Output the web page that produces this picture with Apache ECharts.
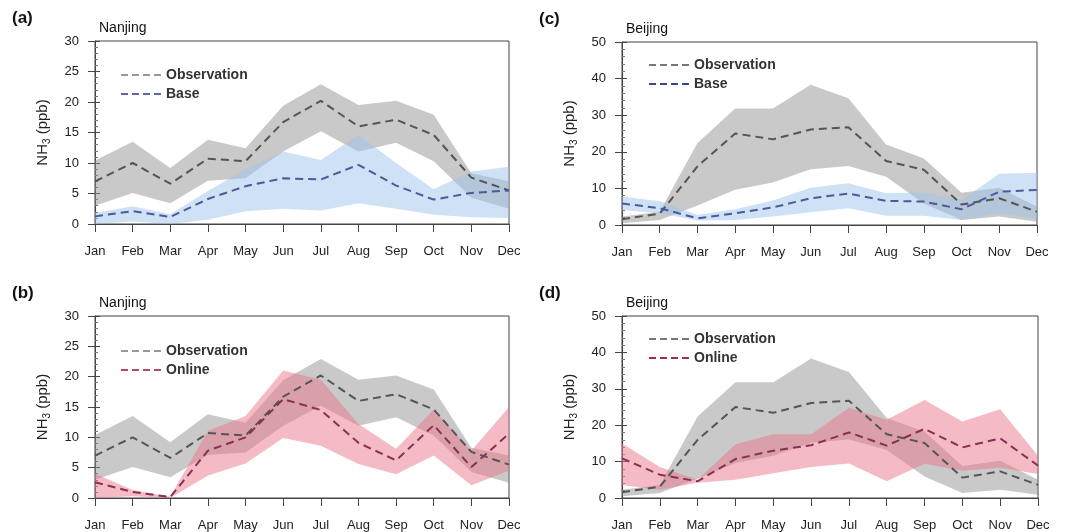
<!DOCTYPE html>
<html>
<head>
<meta charset="utf-8">
<script src="https://cdn.jsdelivr.net/npm/echarts@6/dist/echarts.min.js"></script>
<style>
html,body{margin:0;padding:0;background:#fff;}
#chart{width:1067px;height:532px;}
</style>
</head>
<body>
<div id="chart"></div>
<script>
const months = ['Jan','Feb','Mar','Apr','May','Jun','Jul','Aug','Sep','Oct','Nov','Dec'];

// Nanjing observation (panels a, b)
const njObsMean  = [7.0, 10.0, 6.6, 10.7, 10.3, 16.7, 20.2, 16.0, 17.1, 14.6, 7.6, 5.5];
const njObsUpper = [10.4, 13.5, 9.2, 13.8, 12.4, 19.4, 22.9, 19.5, 20.2, 17.9, 8.3, 7.0];
const njObsLower = [3.0, 5.1, 3.4, 7.1, 7.5, 11.9, 15.2, 11.9, 13.3, 10.3, 4.3, 2.5];
// Nanjing Base (panel a)
const njBaseMean  = [1.25, 2.1, 1.15, 4.1, 6.2, 7.5, 7.3, 9.7, 6.3, 4.0, 5.1, 5.5];
const njBaseUpper = [1.8, 2.9, 1.6, 5.4, 9.0, 11.9, 10.5, 14.6, 10.0, 5.7, 8.6, 9.4];
const njBaseLower = [0.0, 0.4, 0.0, 0.7, 2.1, 2.5, 2.2, 3.4, 2.5, 1.5, 1.1, 1.0];
// Nanjing Online (panel b)
const njOnMean  = [2.6, 1.0, 0.15, 7.8, 10.0, 16.3, 14.5, 9.1, 6.2, 12.0, 5.1, 10.6];
const njOnUpper = [4.0, 1.3, 0.2, 11.1, 13.5, 21.0, 19.5, 12.2, 8.1, 14.6, 7.8, 15.0];
const njOnLower = [0.0, 0.3, 0.0, 3.7, 5.7, 9.9, 8.6, 5.6, 3.9, 7.0, 2.1, 4.5];

// Beijing observation (panels c, d)
const bjObsMean  = [1.6, 3.1, 16.0, 25.0, 23.4, 26.1, 26.7, 17.5, 15.1, 5.6, 7.3, 3.6];
const bjObsUpper = [2.3, 3.6, 22.4, 31.8, 31.8, 38.3, 34.6, 22.0, 18.2, 8.8, 10.2, 5.0];
const bjObsLower = [0.5, 1.4, 5.3, 9.6, 11.6, 15.2, 16.1, 13.2, 5.9, 1.4, 2.3, 0.9];
// Beijing Base (panel c)
const bjBaseMean  = [5.9, 4.6, 1.8, 3.2, 4.8, 7.3, 8.6, 6.6, 6.4, 4.3, 9.1, 9.6];
const bjBaseUpper = [7.8, 6.5, 2.7, 4.3, 6.7, 10.2, 11.4, 8.7, 8.9, 6.8, 14.0, 14.3];
const bjBaseLower = [4.1, 3.2, 1.2, 1.4, 2.3, 3.5, 4.6, 2.5, 2.5, 1.4, 3.2, 1.8];
// Beijing Online (panel d)
const bjOnMean  = [10.9, 6.4, 4.6, 10.7, 13.0, 14.5, 18.0, 14.4, 19.0, 13.9, 16.4, 8.9];
const bjOnUpper = [15.0, 8.5, 5.0, 14.8, 17.5, 17.5, 24.8, 21.5, 26.9, 21.0, 24.4, 11.6];
const bjOnLower = [3.6, 2.3, 4.2, 5.0, 6.8, 8.5, 9.5, 4.6, 9.4, 7.5, 8.3, 6.6];

const njTicks = {min: 0, max: 30, interval: 5};
const bjTicks = {min: 0, max: 50, interval: 10};

const FONT = 'Liberation Sans, Arial, Helvetica, sans-serif';
const AX = '#444';
const OBS_FILL = 'rgba(140,140,140,0.47)';
const BASE_FILL = 'rgba(160,195,235,0.5)';
const ON_FILL = 'rgba(235,120,140,0.5)';
const OBS_LINE = '#555555';
const BASE_LINE = '#4a5a9a';
const ON_LINE = '#8a3052';

const grids = [
  {left: 95, top: 41, width: 414, height: 183},   // a
  {left: 95, top: 316, width: 414, height: 183},  // b
  {left: 622, top: 42, width: 415, height: 183},  // c
  {left: 622, top: 316, width: 416, height: 183}  // d
];
const ticks = [njTicks, njTicks, bjTicks, bjTicks];

const option = {
  animation: false,
  backgroundColor: '#fff',
  textStyle: {fontFamily: FONT},
  title: [],
  legend: [],
  grid: grids.map(g => Object.assign({show: true, borderColor: AX, borderWidth: 1, backgroundColor: 'transparent'}, g)),
  xAxis: [],
  yAxis: [],
  series: []
};

const panelLabels = [['(a)','Nanjing'],['(b)','Nanjing'],['(c)','Beijing'],['(d)','Beijing']];
grids.forEach((g, i) => {
  option.title.push({text: panelLabels[i][0], left: g.left - 88, top: g.top - 36,
    textStyle: {fontSize: 17, fontWeight: 'bold', color: '#111', fontFamily: FONT}});
  option.title.push({text: panelLabels[i][1], left: g.left - 1, top: g.top - 25,
    textStyle: {fontSize: 14, fontWeight: 'normal', color: '#111', fontFamily: FONT}});
  option.xAxis.push({
    gridIndex: i, type: 'category', data: months, boundaryGap: false,
    axisLine: {lineStyle: {color: AX, width: 1}},
    axisTick: {show: true, length: 8, lineStyle: {color: AX}},
    axisLabel: {margin: 21, fontSize: 13, color: '#222', fontFamily: FONT},
    splitLine: {show: false}
  });
  const t = ticks[i];
  option.yAxis.push({
    gridIndex: i, type: 'value', position: 'left', offset: 0,
    min: t.min, max: t.max, interval: t.interval,
    name: '{n|NH}{s|3}{n| (ppb)}', nameLocation: 'middle', nameGap: 43, nameRotate: 90,
    nameTextStyle: {rich: {
      n: {fontSize: 15, color: '#222', fontFamily: FONT},
      s: {fontSize: 10, color: '#222', fontFamily: FONT, padding: [8, 0, 0, 0]}
    }},
    axisLine: {show: true, lineStyle: {color: AX, width: 1}},
    axisTick: {show: true, length: 7, lineStyle: {color: AX}},
    axisLabel: {margin: 16, fontSize: 13, color: '#222', fontFamily: FONT},
    splitLine: {show: false}
  });
  option.yAxis.push({
    gridIndex: i, type: 'value', position: 'left', offset: 0,
    min: t.min, max: t.max, interval: t.interval,
    axisLine: {show: false},
    axisTick: {show: true, inside: true, length: 5, lineStyle: {color: AX}},
    minorTick: {show: true, splitNumber: 5, length: 3, lineStyle: {color: '#777'}},
    axisLabel: {show: false},
    splitLine: {show: false}
  });
});

function band(id, lower, upper, fill, g) {
  const stack = 'stk_' + id;
  return [
    {type: 'line', name: id + '_lo', xAxisIndex: g, yAxisIndex: 2 * g, stack: stack, data: lower,
     symbol: 'none', lineStyle: {opacity: 0, width: 0}, silent: true, z: 1},
    {type: 'line', name: id + '_hi', xAxisIndex: g, yAxisIndex: 2 * g, stack: stack,
     data: upper.map((u, k) => +(u - lower[k]).toFixed(3)),
     symbol: 'none', lineStyle: {opacity: 0, width: 0}, areaStyle: {color: fill, opacity: 1}, silent: true, z: 1}
  ];
}
function meanLine(name, data, color, g) {
  return {type: 'line', name: name, xAxisIndex: g, yAxisIndex: 2 * g, data: data,
    symbol: 'none', lineStyle: {color: color, width: 2, type: [8, 5]}, itemStyle: {color: color}, z: 3};
}

option.series.push(...band('aObs', njObsLower, njObsUpper, OBS_FILL, 0));
option.series.push(...band('aBase', njBaseLower, njBaseUpper, BASE_FILL, 0));
option.series.push(meanLine('Observation', njObsMean, OBS_LINE, 0));
option.series.push(meanLine('Base', njBaseMean, BASE_LINE, 0));

option.series.push(...band('bObs', njObsLower, njObsUpper, OBS_FILL, 1));
option.series.push(...band('bOn', njOnLower, njOnUpper, ON_FILL, 1));
option.series.push(meanLine('Observation', njObsMean, OBS_LINE, 1));
option.series.push(meanLine('Online', njOnMean, ON_LINE, 1));

option.series.push(...band('cObs', bjObsLower, bjObsUpper, OBS_FILL, 2));
option.series.push(...band('cBase', bjBaseLower, bjBaseUpper, BASE_FILL, 2));
option.series.push(meanLine('Observation', bjObsMean, OBS_LINE, 2));
option.series.push(meanLine('Base', bjBaseMean, BASE_LINE, 2));

option.series.push(...band('dObs', bjObsLower, bjObsUpper, OBS_FILL, 3));
option.series.push(...band('dOn', bjOnLower, bjOnUpper, ON_FILL, 3));
option.series.push(meanLine('Observation', bjObsMean, OBS_LINE, 3));
option.series.push(meanLine('Online', bjOnMean, ON_LINE, 3));

const legendDefs = [
  {left: 115, top: 63, names: ['Observation', 'Base'], obsColor: '#999', modColor: '#5a68aa'},
  {left: 115, top: 339, names: ['Observation', 'Online'], obsColor: '#999', modColor: '#b04a6e'},
  {left: 643, top: 53, names: ['Observation', 'Base'], obsColor: '#777', modColor: '#3a4a90'},
  {left: 643, top: 327, names: ['Observation', 'Online'], obsColor: '#777', modColor: '#a02a56'}
];
legendDefs.forEach(l => {
  option.legend.push({
    left: l.left, top: l.top, orient: 'vertical', itemWidth: 40, itemHeight: 12, itemGap: 5,
    selectedMode: false,
    itemStyle: {opacity: 0},
    textStyle: {fontSize: 14, fontWeight: 'bold', color: '#333', fontFamily: FONT},
    data: [
      {name: l.names[0], itemStyle: {opacity: 0}, lineStyle: {color: l.obsColor, type: [7, 4], width: 2, opacity: 1}},
      {name: l.names[1], itemStyle: {opacity: 0}, lineStyle: {color: l.modColor, type: [7, 4], width: 2, opacity: 1}}
    ]
  });
});

const chart = echarts.init(document.getElementById('chart'), null, {renderer: 'canvas'});
chart.setOption(option);
</script>
</body>
</html>
